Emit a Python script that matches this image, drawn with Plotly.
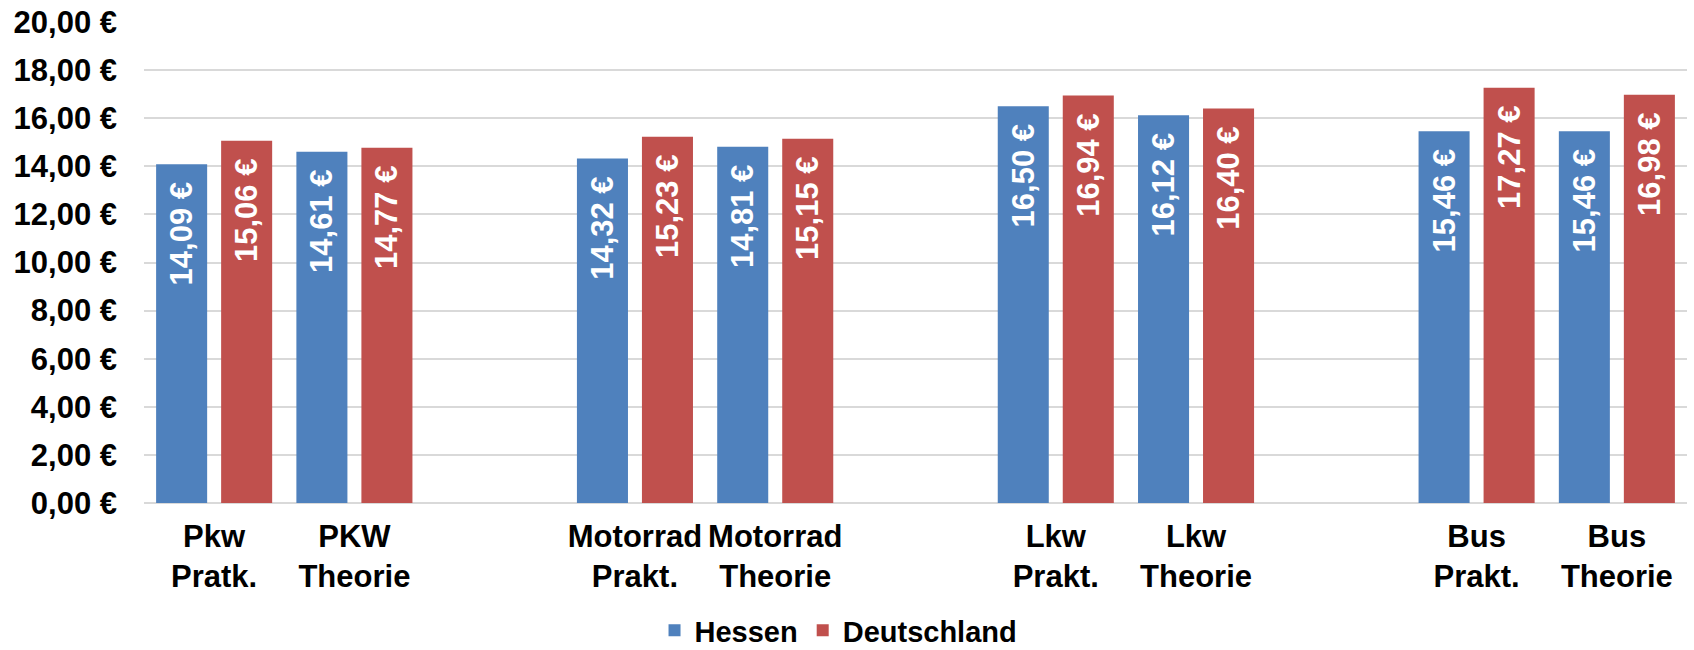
import plotly.graph_objects as go

categories = ["Pkw<br>Pratk.", "PKW<br>Theorie", " ",
              "Motorrad<br>Prakt.", "Motorrad<br>Theorie", "  ",
              "Lkw<br>Prakt.", "Lkw<br>Theorie", "   ",
              "Bus<br>Prakt.", "Bus<br>Theorie"]
hessen = [14.09, 14.61, None, 14.32, 14.81, None, 16.50, 16.12, None, 15.46, 15.46]
deutschland = [15.06, 14.77, None, 15.23, 15.15, None, 16.94, 16.40, None, 17.27, 16.98]
ytick_vals = [0, 2, 4, 6, 8, 10, 12, 14, 16, 18, 20]
ytick_text = [f"{v:.2f} €".replace(".", ",") for v in ytick_vals]

FONT = "Liberation Sans, Arial, sans-serif"
BLUE = "#4F81BD"
RED = "#C0504D"

fig = go.Figure()
for name, vals, col in [("Hessen", hessen, BLUE), ("Deutschland", deutschland, RED)]:
    fig.add_trace(go.Bar(
        name=name, x=categories, y=vals,
        marker=dict(color=col, line=dict(width=0)),
        texttemplate="%{y:.2f} €\u00a0\u2009",
        textposition="inside", insidetextanchor="end", textangle=-90,
        textfont=dict(family=FONT, size=31, color="white", weight="bold"),
        cliponaxis=False,
    ))

fig.update_layout(
    width=1694, height=650,
    margin=dict(l=144, r=7, t=22, b=147, autoexpand=False),
    paper_bgcolor="white", plot_bgcolor="white",
    separators=",.",
    barmode="group", bargap=0.073, bargroupgap=0.215,
    font=dict(family=FONT, size=31, color="black", weight="bold"),
    uniformtext=dict(minsize=10, mode="show"),
    legend=dict(orientation="h", x=0.495, xref="container", xanchor="center",
                y=0.03, yref="container", yanchor="middle",
                font=dict(family=FONT, size=29, color="black", weight="bold"),
                itemwidth=30, traceorder="normal"),
    xaxis=dict(type="category", categoryorder="array", categoryarray=categories,
               showgrid=False, showline=False, ticks="", automargin=False,
               ticklabelstandoff=12,
               tickfont=dict(family=FONT, size=31, color="black", weight="bold")),
    yaxis=dict(range=[0, 20], tickvals=ytick_vals, ticktext=ytick_text,
               showgrid=True, gridcolor="#D9D9D9", gridwidth=2,
               zeroline=True, zerolinecolor="#D9D9D9", zerolinewidth=2,
               showline=False, ticks="", ticklabelstandoff=26, automargin=False,
               tickfont=dict(family=FONT, size=31, color="black", weight="bold")),
)

fig.write_html("out.html", config={"displayModeBar": False},
               post_script="document.body.style.margin='0';document.body.style.overflow='hidden';")
